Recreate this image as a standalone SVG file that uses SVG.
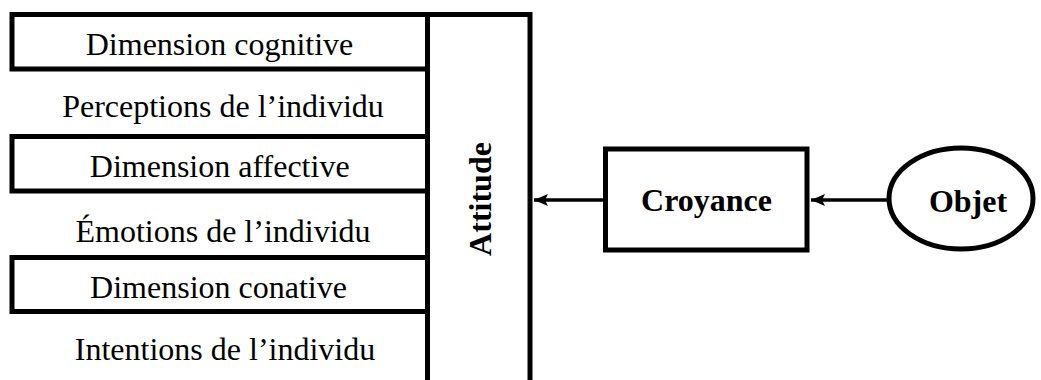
<svg xmlns="http://www.w3.org/2000/svg" width="1041" height="380" viewBox="0 0 1041 380">
<style>
.box{fill:#fff;stroke:#000;stroke-width:5}
.t{font-family:"Liberation Serif","Times New Roman",serif;font-size:32px;fill:#000;text-anchor:middle}
.b{font-weight:bold}
.c{stroke:#000;stroke-width:3.5;fill:none}
</style>
<defs>
<marker id="ah" markerUnits="userSpaceOnUse" markerWidth="16" markerHeight="14" refX="14" refY="7" orient="auto" viewBox="0 0 16 14">
<path d="M14,7 L0,1 L3,7 L0,13 Z" fill="#000"/>
</marker>
</defs>
<rect width="1041" height="380" fill="#fff"/>
<g id="attitude">
<rect class="box" x="427.5" y="14.5" width="102.5" height="400"/>
<text class="t b" transform="translate(491,199) rotate(-90)">Attitude</text>
</g>
<g id="cognitive">
<rect class="box" x="12" y="14.5" width="415.5" height="54.5"/>
<text class="t" x="219.5" y="55">Dimension cognitive</text>
</g>
<g id="perceptions">
<text class="t" x="223" y="117">Perceptions de l’individu</text>
</g>
<g id="affective">
<rect class="box" x="12" y="136.5" width="415.5" height="54.5"/>
<text class="t" x="219.7" y="177">Dimension affective</text>
</g>
<g id="emotions">
<text class="t" x="223" y="242">Émotions de l’individu</text>
</g>
<g id="conative">
<rect class="box" x="12" y="257.5" width="415.5" height="54"/>
<text class="t" x="218.5" y="298">Dimension conative</text>
</g>
<g id="intentions">
<text class="t" x="225" y="360">Intentions de l’individu</text>
</g>
<g id="croyance">
<rect class="box" x="605.5" y="149" width="201.5" height="101"/>
<text class="t b" x="706.5" y="211">Croyance</text>
</g>
<g id="objet">
<ellipse class="box" cx="961" cy="198.5" rx="72" ry="50.5"/>
<text class="t b" x="968" y="211.5">Objet</text>
</g>
<g id="connectors">
<line class="c" x1="603" y1="200" x2="534" y2="200" marker-end="url(#ah)"/>
<line class="c" x1="887" y1="200" x2="811" y2="200" marker-end="url(#ah)"/>
</g>
</svg>
